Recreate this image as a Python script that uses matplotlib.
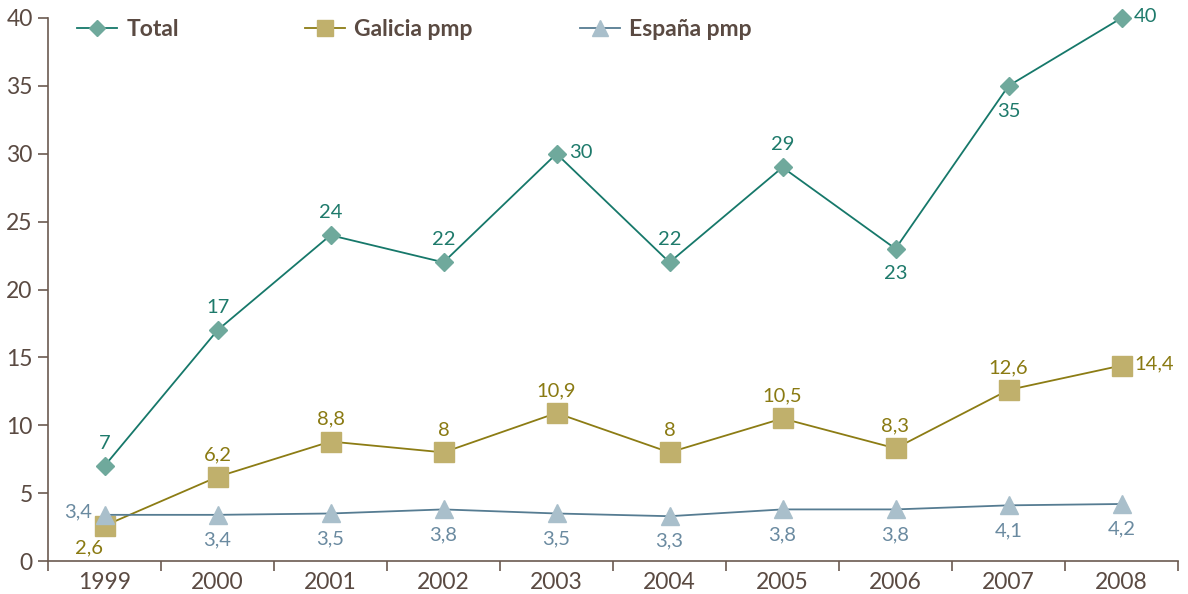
import matplotlib
matplotlib.use("Agg")
import matplotlib.pyplot as plt
import numpy as np

years = ["1999", "2000", "2001", "2002", "2003", "2004", "2005", "2006", "2007", "2008"]
total = [7, 17, 24, 22, 30, 22, 29, 23, 35, 40]
galicia = [2.6, 6.2, 8.8, 8, 10.9, 8, 10.5, 8.3, 12.6, 14.4]
espana = [3.4, 3.4, 3.5, 3.8, 3.5, 3.3, 3.8, 3.8, 4.1, 4.2]
series_names = ["Total", "Galicia pmp", "España pmp"]

# label placement: 'a' above, 'b' below, 'r' right, 'l' left, 'bl' below-left
pos_total = ['a', 'a', 'a', 'a', 'r', 'a', 'a', 'b', 'b', 'r']
pos_gal = ['bl', 'a', 'a', 'a', 'a', 'a', 'a', 'a', 'a', 'r']
pos_esp = ['l', 'b', 'b', 'b', 'b', 'b', 'b', 'b', 'b', 'b']

plt.rcParams['font.family'] = ['Lato', 'DejaVu Sans']
axis_col = '#6b5a50'
text_col = '#5a4a42'

fig = plt.figure(figsize=(11.88, 5.94), dpi=100)
ax = fig.add_axes([48/1188, 33/594, 1130/1188, 543/594])
x = np.arange(len(years))

l1, = ax.plot(x, total, color='#16786a', lw=1.3, marker='D', ms=9, mfc='#6fa99c', mec='#6fa99c', label=series_names[0], zorder=3, clip_on=False)
l2, = ax.plot(x, galicia, color='#8c7c14', lw=1.3, marker='s', ms=14, mfc='#c0b06c', mec='#c0b06c', label=series_names[1], zorder=3, clip_on=False)
l3, = ax.plot(x, espana, color='#567c92', lw=1.3, marker='^', ms=13, mfc='#a9bfcb', mec='#a9bfcb', label=series_names[2], zorder=3, clip_on=False)

def annotate(vals, poss, col):
    for i, (v, p) in enumerate(zip(vals, poss)):
        s = (f"{v:g}").replace('.', ',')
        if p == 'a':
            off, ha, va = (0, 10), 'center', 'bottom'
        elif p == 'b':
            off, ha, va = (0, -12), 'center', 'top'
        elif p == 'r':
            off, ha, va = (9, 1), 'left', 'center'
        elif p == 'l':
            off, ha, va = (-9, 2), 'right', 'center'
        else:
            off, ha, va = (-1, -10), 'right', 'top'
        ax.annotate(s, (i, v), xytext=off, textcoords='offset points', ha=ha, va=va,
                    color=col, fontsize=14.5)

annotate(total, pos_total, '#1e7a6b')
annotate(galicia, pos_gal, '#8a7a12')
annotate(espana, pos_esp, '#6a8aa0')

ax.set_xlim(-0.5, len(years) - 0.5)
ax.set_ylim(0, 40)
ax.set_yticks(range(0, 41, 5))
ax.set_xticks(x)
ax.set_xticklabels(years)
ax.set_xticks(np.arange(-0.5, len(years), 1), minor=True)
ax.tick_params(axis='x', which='major', length=0, pad=8, labelsize=16.5, labelcolor=text_col)
ax.tick_params(axis='x', which='minor', length=7, width=1.2, color=axis_col)
ax.tick_params(axis='y', length=7, width=1.2, color=axis_col, labelsize=16.5, labelcolor=text_col, pad=4)
for sp in ['top', 'right']:
    ax.spines[sp].set_visible(False)
for sp in ['left', 'bottom']:
    ax.spines[sp].set_color(axis_col)
    ax.spines[sp].set_linewidth(1.2)

# separate legend entries at fixed positions
for handle, name, xp in zip([l1, l2, l3], series_names, [77, 305, 580]):
    leg = fig.legend([handle], [name], loc='center left',
                     bbox_to_anchor=(xp/1188, 1 - 30/594), frameon=False,
                     borderpad=0, borderaxespad=0, handlelength=1.75, handletextpad=0.4,
                     prop={'weight': 'bold', 'size': 16.5})
    for t in leg.get_texts():
        t.set_color(text_col)
    for h in leg.legend_handles:
        h.set_markersize(h.get_markersize() * 0.85)

fig.savefig("out.png", dpi=100)
